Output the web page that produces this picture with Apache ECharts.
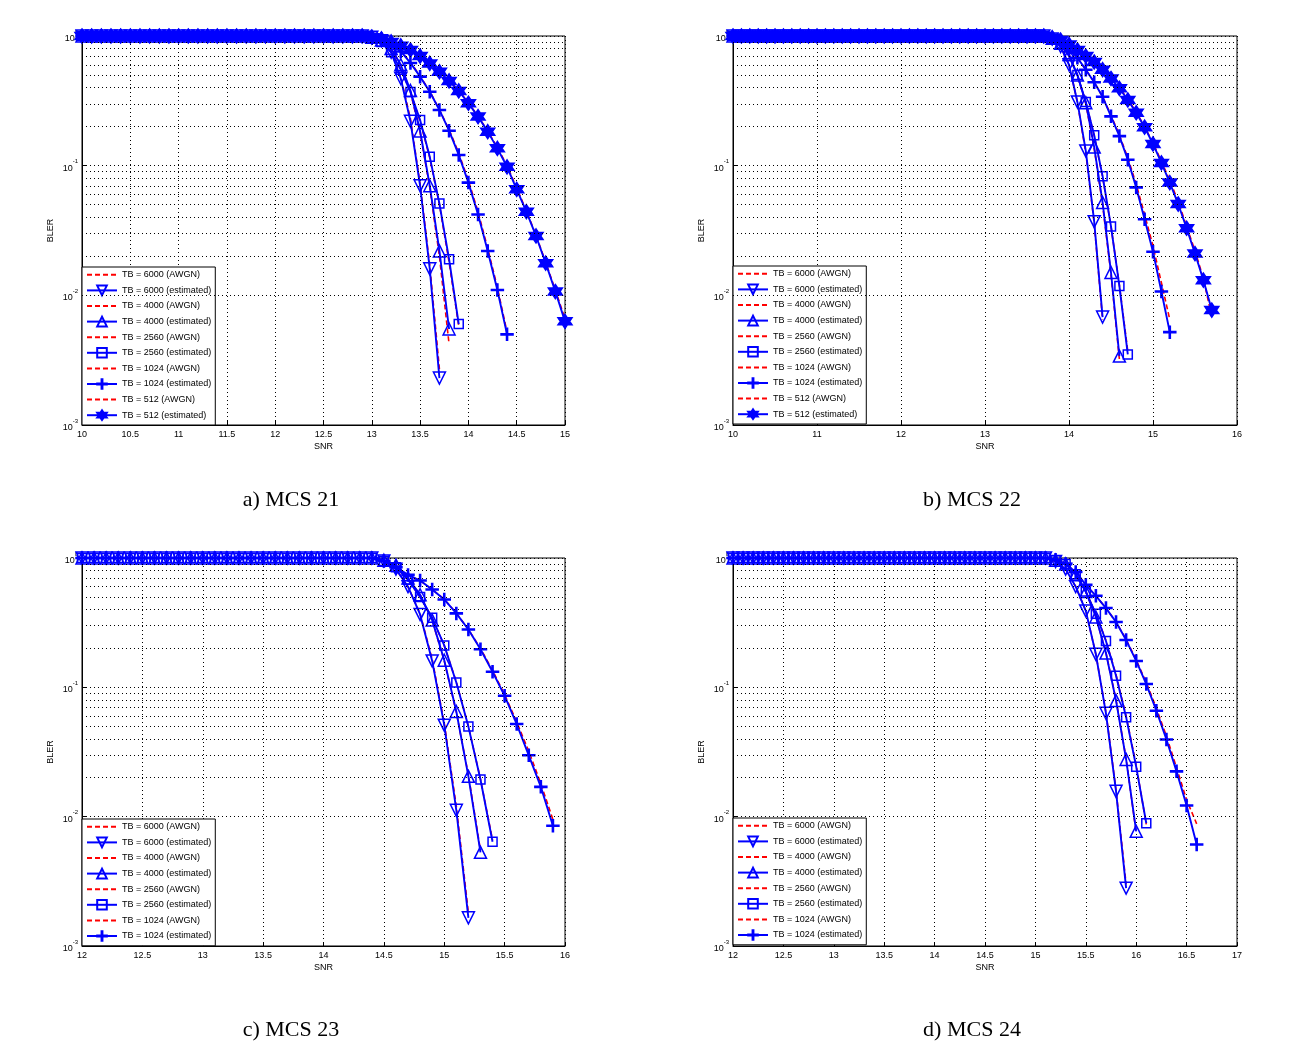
<!DOCTYPE html>
<html>
<head>
<meta charset="utf-8">
<script src="https://cdn.jsdelivr.net/npm/echarts@6/dist/echarts.min.js"></script>
<style>
html,body{margin:0;padding:0;background:#fff;}
#chart{width:1298px;height:1048px;}
</style>
</head>
<body>
<div id="chart"></div>
<script>
// ---------- SNR sample grids ----------
var snrA = [10,10.1,10.2,10.3,10.4,10.5,10.6,10.7,10.8,10.9,11,11.1,11.2,11.3,11.4,11.5,11.6,11.7,11.8,11.9,12,12.1,12.2,12.3,12.4,12.5,12.6,12.7,12.8,12.9,13,13.1,13.2,13.3,13.4,13.5,13.6,13.7,13.8,13.9,14,14.1,14.2,14.3,14.4,14.5,14.6,14.7,14.8,14.9,15];
var snrB = [10,10.1,10.2,10.3,10.4,10.5,10.6,10.7,10.8,10.9,11,11.1,11.2,11.3,11.4,11.5,11.6,11.7,11.8,11.9,12,12.1,12.2,12.3,12.4,12.5,12.6,12.7,12.8,12.9,13,13.1,13.2,13.3,13.4,13.5,13.6,13.7,13.8,13.9,14,14.1,14.2,14.3,14.4,14.5,14.6,14.7,14.8,14.9,15,15.1,15.2,15.3,15.4,15.5,15.6,15.7];
var snrC = [12,12.1,12.2,12.3,12.4,12.5,12.6,12.7,12.8,12.9,13,13.1,13.2,13.3,13.4,13.5,13.6,13.7,13.8,13.9,14,14.1,14.2,14.3,14.4,14.5,14.6,14.7,14.8,14.9,15,15.1,15.2,15.3,15.4,15.5,15.6,15.7,15.8,15.9];
var snrD = [12,12.1,12.2,12.3,12.4,12.5,12.6,12.7,12.8,12.9,13,13.1,13.2,13.3,13.4,13.5,13.6,13.7,13.8,13.9,14,14.1,14.2,14.3,14.4,14.5,14.6,14.7,14.8,14.9,15,15.1,15.2,15.3,15.4,15.5,15.6,15.7,15.8,15.9,16,16.1,16.2,16.3,16.4,16.5,16.6];

// ---------- a) MCS 21 ----------
var a6000awgn = [1,1,1,1,1,1,1,1,1,1, 1,1,1,1,1,1,1,1,1,1, 1,1,1,1,1,1,1,1,1,1, 0.98,0.92,0.76,0.48,0.23,0.072,0.017,0.0027];
var a6000est  = [1,1,1,1,1,1,1,1,1,1, 1,1,1,1,1,1,1,1,1,1, 1,1,1,1,1,1,1,1,1,1, 0.98,0.92,0.75,0.47,0.22,0.07,0.016,0.0023];
var a4000awgn = [1,1,1,1,1,1,1,1,1,1, 1,1,1,1,1,1,1,1,1,1, 1,1,1,1,1,1,1,1,1,1, 0.98,0.93,0.8,0.6,0.37,0.18,0.068,0.02,0.0042];
var a4000est  = [1,1,1,1,1,1,1,1,1,1, 1,1,1,1,1,1,1,1,1,1, 1,1,1,1,1,1,1,1,1,1, 0.98,0.93,0.8,0.6,0.38,0.185,0.07,0.022,0.0055];
var a2560awgn = [1,1,1,1,1,1,1,1,1,1, 1,1,1,1,1,1,1,1,1,1, 1,1,1,1,1,1,1,1,1,1, 0.97,0.9,0.75,0.56,0.37,0.22,0.115,0.05,0.018,0.0058];
var a2560est  = [1,1,1,1,1,1,1,1,1,1, 1,1,1,1,1,1,1,1,1,1, 1,1,1,1,1,1,1,1,1,1, 0.97,0.9,0.75,0.55,0.37,0.225,0.117,0.051,0.019,0.006];
var a1024awgn = [1,1,1,1,1,1,1,1,1,1, 1,1,1,1,1,1,1,1,1,1, 1,1,1,1,1,1,1,1,1,1, 0.99,0.95,0.88,0.76,0.63,0.49,0.375,0.27,0.19,0.125,0.077,0.044,0.023,0.0115,0.0052];
var a1024est  = [1,1,1,1,1,1,1,1,1,1, 1,1,1,1,1,1,1,1,1,1, 1,1,1,1,1,1,1,1,1,1, 0.99,0.95,0.88,0.76,0.62,0.486,0.372,0.269,0.186,0.121,0.074,0.042,0.022,0.011,0.005];
var a512awgn  = [1,1,1,1,1,1,1,1,1,1, 1,1,1,1,1,1,1,1,1,1, 1,1,1,1,1,1,1,1,1,1, 0.98,0.95,0.9,0.84,0.78,0.7,0.62,0.53,0.455,0.38,0.305,0.24,0.185,0.138,0.1,0.067,0.045,0.029,0.018,0.011,0.0066];
var a512est   = [1,1,1,1,1,1,1,1,1,1, 1,1,1,1,1,1,1,1,1,1, 1,1,1,1,1,1,1,1,1,1, 0.98,0.95,0.9,0.84,0.78,0.7,0.615,0.53,0.45,0.377,0.303,0.239,0.183,0.136,0.098,0.0657,0.0442,0.0287,0.0177,0.0107,0.0063];

// ---------- b) MCS 22 ----------
var b6000awgn = [1,1,1,1,1,1,1,1,1,1, 1,1,1,1,1,1,1,1,1,1, 1,1,1,1,1,1,1,1,1,1, 1,1,1,1,1,1,1,1, 0.95,0.83,0.6,0.31,0.125,0.036,0.0065];
var b6000est  = [1,1,1,1,1,1,1,1,1,1, 1,1,1,1,1,1,1,1,1,1, 1,1,1,1,1,1,1,1,1,1, 1,1,1,1,1,1,1,1, 0.95,0.83,0.6,0.31,0.13,0.037,0.0068];
var b4000awgn = [1,1,1,1,1,1,1,1,1,1, 1,1,1,1,1,1,1,1,1,1, 1,1,1,1,1,1,1,1,1,1, 1,1,1,1,1,1,1,1, 0.96,0.88,0.72,0.5,0.3,0.135,0.05,0.0145,0.0032];
var b4000est  = [1,1,1,1,1,1,1,1,1,1, 1,1,1,1,1,1,1,1,1,1, 1,1,1,1,1,1,1,1,1,1, 1,1,1,1,1,1,1,1, 0.96,0.88,0.72,0.5,0.306,0.139,0.052,0.015,0.0034];
var b2560awgn = [1,1,1,1,1,1,1,1,1,1, 1,1,1,1,1,1,1,1,1,1, 1,1,1,1,1,1,1,1,1,1, 1,1,1,1,1,1,1,1, 0.95,0.87,0.7,0.5,0.31,0.17,0.082,0.034,0.012,0.0037];
var b2560est  = [1,1,1,1,1,1,1,1,1,1, 1,1,1,1,1,1,1,1,1,1, 1,1,1,1,1,1,1,1,1,1, 1,1,1,1,1,1,1,1, 0.95,0.87,0.7,0.5,0.31,0.172,0.083,0.034,0.0118,0.0035];
var b1024awgn = [1,1,1,1,1,1,1,1,1,1, 1,1,1,1,1,1,1,1,1,1, 1,1,1,1,1,1,1,1,1,1, 1,1,1,1,1,1,1,1, 0.96,0.9,0.8,0.68,0.55,0.44,0.34,0.245,0.172,0.115,0.072,0.042,0.024,0.0125,0.0065];
var b1024est  = [1,1,1,1,1,1,1,1,1,1, 1,1,1,1,1,1,1,1,1,1, 1,1,1,1,1,1,1,1,1,1, 1,1,1,1,1,1,1,1, 0.96,0.9,0.8,0.68,0.55,0.44,0.34,0.24,0.169,0.111,0.068,0.0386,0.0217,0.0107,0.0052];
var b512awgn  = [1,1,1,1,1,1,1,1,1,1, 1,1,1,1,1,1,1,1,1,1, 1,1,1,1,1,1,1,1,1,1, 1,1,1,1,1,1,1,1, 0.97,0.93,0.86,0.78,0.7,0.63,0.55,0.47,0.4,0.325,0.26,0.2,0.15,0.108,0.077,0.053,0.034,0.022,0.0135,0.0068];
var b512est   = [1,1,1,1,1,1,1,1,1,1, 1,1,1,1,1,1,1,1,1,1, 1,1,1,1,1,1,1,1,1,1, 1,1,1,1,1,1,1,1, 0.97,0.93,0.86,0.78,0.7,0.63,0.55,0.47,0.395,0.321,0.256,0.198,0.147,0.105,0.074,0.0506,0.0329,0.021,0.0131,0.0077];

// ---------- c) MCS 23 ----------
var c6000awgn = [1,1,1,1,1,1,1,1,1,1, 1,1,1,1,1,1,1,1,1,1, 1,1,1,1,1, 0.95,0.82,0.6,0.37,0.165,0.053,0.012,0.0018];
var c6000est  = [1,1,1,1,1,1,1,1,1,1, 1,1,1,1,1,1,1,1,1,1, 1,1,1,1,1, 0.95,0.82,0.6,0.366,0.16,0.051,0.0112,0.00165];
var c4000awgn = [1,1,1,1,1,1,1,1,1,1, 1,1,1,1,1,1,1,1,1,1, 1,1,1,1,1, 0.96,0.88,0.7,0.52,0.33,0.16,0.064,0.021,0.0055];
var c4000est  = [1,1,1,1,1,1,1,1,1,1, 1,1,1,1,1,1,1,1,1,1, 1,1,1,1,1, 0.96,0.88,0.7,0.52,0.331,0.162,0.065,0.0205,0.0053];
var c2560awgn = [1,1,1,1,1,1,1,1,1,1, 1,1,1,1,1,1,1,1,1,1, 1,1,1,1,1, 0.95,0.85,0.68,0.5,0.345,0.21,0.11,0.05,0.0195,0.0066];
var c2560est  = [1,1,1,1,1,1,1,1,1,1, 1,1,1,1,1,1,1,1,1,1, 1,1,1,1,1, 0.95,0.85,0.68,0.5,0.345,0.211,0.109,0.0497,0.0194,0.0064];
var c1024awgn = [1,1,1,1,1,1,1,1,1,1, 1,1,1,1,1,1,1,1,1,1, 1,1,1,1,1, 0.95,0.85,0.74,0.67,0.57,0.48,0.375,0.28,0.2,0.135,0.088,0.054,0.032,0.018,0.0095];
var c1024est  = [1,1,1,1,1,1,1,1,1,1, 1,1,1,1,1,1,1,1,1,1, 1,1,1,1,1, 0.95,0.85,0.74,0.67,0.57,0.478,0.373,0.28,0.197,0.132,0.086,0.052,0.0298,0.017,0.0085];

// ---------- d) MCS 24 ----------
var d6000awgn = [1,1,1,1,1,1,1,1,1,1, 1,1,1,1,1,1,1,1,1,1, 1,1,1,1,1,1,1,1,1,1, 1,1, 0.94,0.82,0.6,0.39,0.18,0.064,0.016,0.003];
var d6000est  = [1,1,1,1,1,1,1,1,1,1, 1,1,1,1,1,1,1,1,1,1, 1,1,1,1,1,1,1,1,1,1, 1,1, 0.94,0.82,0.6,0.39,0.18,0.063,0.0157,0.0028];
var d4000awgn = [1,1,1,1,1,1,1,1,1,1, 1,1,1,1,1,1,1,1,1,1, 1,1,1,1,1,1,1,1,1,1, 1,1, 0.96,0.9,0.75,0.55,0.35,0.185,0.08,0.028,0.0075];
var d4000est  = [1,1,1,1,1,1,1,1,1,1, 1,1,1,1,1,1,1,1,1,1, 1,1,1,1,1,1,1,1,1,1, 1,1, 0.96,0.9,0.75,0.55,0.35,0.184,0.079,0.0277,0.0077];
var d2560awgn = [1,1,1,1,1,1,1,1,1,1, 1,1,1,1,1,1,1,1,1,1, 1,1,1,1,1,1,1,1,1,1, 1,1, 0.96,0.9,0.75,0.55,0.37,0.23,0.125,0.06,0.025,0.0087];
var d2560est  = [1,1,1,1,1,1,1,1,1,1, 1,1,1,1,1,1,1,1,1,1, 1,1,1,1,1,1,1,1,1,1, 1,1, 0.96,0.9,0.75,0.55,0.37,0.228,0.123,0.0588,0.0243,0.0089];
var d1024awgn = [1,1,1,1,1,1,1,1,1,1, 1,1,1,1,1,1,1,1,1,1, 1,1,1,1,1,1,1,1,1,1, 1,1, 0.97,0.9,0.78,0.62,0.51,0.41,0.32,0.235,0.163,0.109,0.069,0.042,0.024,0.0135,0.0088];
var d1024est  = [1,1,1,1,1,1,1,1,1,1, 1,1,1,1,1,1,1,1,1,1, 1,1,1,1,1,1,1,1,1,1, 1,1, 0.97,0.9,0.78,0.62,0.51,0.41,0.32,0.232,0.16,0.106,0.066,0.0395,0.0224,0.0122,0.0061];

// ---------- labels ----------
var captions = ['a) MCS 21', 'b) MCS 22', 'c) MCS 23', 'd) MCS 24'];
var yMinorTicks = [0.002,0.003,0.004,0.005,0.006,0.007,0.008,0.009,0.02,0.03,0.04,0.05,0.06,0.07,0.08,0.09,0.2,0.3,0.4,0.5,0.6,0.7,0.8,0.9];
var xRanges = [[10,15,0.5],[10,16,1],[12,16,0.5],[12,17,0.5]];

// ---------- styling / assembly ----------
var BLUE = '#0000ff', RED = '#ff0000';
var FONT = 'Liberation Sans';
var SYM = {
  '6000': {symbol:'triangle', size:12, rotate:180, fill:'rgba(0,0,0,0)'},
  '4000': {symbol:'triangle', size:12, rotate:0, fill:'rgba(0,0,0,0)'},
  '2560': {symbol:'rect', size:9, rotate:0, fill:'rgba(0,0,0,0)'},
  '1024': {symbol:'path://M9.1,0H10.9V9.1H20V10.9H10.9V20H9.1V10.9H0V9.1H9.1Z', size:12, rotate:0, fill:BLUE},
  '512':  {symbol:'path://M10,0L12.887,5L18.66,5L15.774,10L18.66,15L12.887,15L10,20L7.113,15L1.34,15L4.226,10L1.34,5L7.113,5Z', size:14, rotate:0, fill:BLUE}
};

var panels = [
  {xs:snrA, curves:[['6000',a6000awgn,a6000est],['4000',a4000awgn,a4000est],['2560',a2560awgn,a2560est],['1024',a1024awgn,a1024est],['512',a512awgn,a512est]]},
  {xs:snrB, curves:[['6000',b6000awgn,b6000est],['4000',b4000awgn,b4000est],['2560',b2560awgn,b2560est],['1024',b1024awgn,b1024est],['512',b512awgn,b512est]]},
  {xs:snrC, curves:[['6000',c6000awgn,c6000est],['4000',c4000awgn,c4000est],['2560',c2560awgn,c2560est],['1024',c1024awgn,c1024est]]},
  {xs:snrD, curves:[['6000',d6000awgn,d6000est],['4000',d4000awgn,d4000est],['2560',d2560awgn,d2560est],['1024',d1024awgn,d1024est]]}
];

var gridPos = [
  {left:82, top:36, width:483, height:389},
  {left:733, top:36, width:504, height:389},
  {left:82, top:558, width:483, height:388},
  {left:733, top:558, width:504, height:388}
];
var legendPos = [
  {left:82, top:267},
  {left:733, top:266},
  {left:82, top:819},
  {left:733, top:818}
];
var captionPos = [[291,500],[972,500],[291,1030],[972,1030]];

function pairs(xs, ys){ return ys.map(function(v,i){ return [xs[i], v]; }); }

var grids = [], xAxes = [], yAxes = [], series = [], legends = [], graphics = [];
panels.forEach(function(p, k){
  var g = gridPos[k];
  grids.push({left:g.left, top:g.top, width:g.width, height:g.height, show:true, borderColor:'#000', borderWidth:1, containLabel:false});
  var xr = xRanges[k];
  xAxes.push({
    type:'value', gridIndex:k, min:xr[0], max:xr[1], interval:xr[2],
    name:'SNR', nameLocation:'middle', nameGap:17,
    nameTextStyle:{fontFamily:FONT, fontSize:9, color:'#000'},
    axisLine:{lineStyle:{color:'#000', width:1}},
    axisTick:{inside:true, length:4, lineStyle:{color:'#000'}},
    axisLabel:{fontFamily:FONT, fontSize:9, color:'#000', margin:5},
    splitLine:{show:true, lineStyle:{color:'#000', type:[1,3], width:1}}
  });
  yAxes.push({
    type:'log', logBase:10, gridIndex:k, min:0.001, max:1,
    name:'BLER', nameLocation:'middle', nameGap:27, nameRotate:90,
    nameTextStyle:{fontFamily:FONT, fontSize:9, color:'#000'},
    axisLine:{lineStyle:{color:'#000', width:1}},
    axisTick:{inside:true, length:4, lineStyle:{color:'#000'}},
    axisLabel:{
      fontFamily:FONT, fontSize:9, color:'#000', margin:4,
      formatter:function(v){ var e = Math.round(Math.log(v)/Math.LN10); return '{b|10}{s|' + e + '}'; },
      rich:{ b:{fontFamily:FONT, fontSize:9, color:'#000', verticalAlign:'bottom', lineHeight:14},
             s:{fontFamily:FONT, fontSize:6, color:'#000', verticalAlign:'top', lineHeight:14} }
    },
    splitLine:{show:true, lineStyle:{color:'#000', type:[1,3], width:1}}
  });
  // minor log grid lines
  series.push({
    type:'line', xAxisIndex:k, yAxisIndex:k, data:[], silent:true, z:1,
    markLine:{silent:true, symbol:['none','none'], animation:false, label:{show:false},
      lineStyle:{color:'#000', type:[1,3], width:1},
      data: yMinorTicks.map(function(v){ return {yAxis:v}; })}
  });
  var names = [];
  p.curves.forEach(function(c){
    var tb = c[0], s = SYM[tb];
    var nA = 'TB = ' + tb + ' (AWGN)', nE = 'TB = ' + tb + ' (estimated)';
    names.push({name:nA, itemStyle:{opacity:0, color:'rgba(0,0,0,0)', borderWidth:0}}, {name:nE});
    series.push({
      name:nA, type:'line', xAxisIndex:k, yAxisIndex:k, data:pairs(p.xs, c[1]),
      symbol:'none', z:2, silent:true,
      lineStyle:{color:RED, width:1.6, type:[5,3]}, itemStyle:{color:RED}
    });
    series.push({
      name:nE, type:'line', xAxisIndex:k, yAxisIndex:k, data:pairs(p.xs, c[2]),
      symbol:s.symbol, symbolSize:s.size, symbolRotate:s.rotate, showSymbol:true, showAllSymbol:true, z:3, silent:true,
      lineStyle:{color:BLUE, width:1.9, type:'solid'},
      itemStyle:{color:s.fill, borderColor:BLUE, borderWidth:1.5}
    });
  });
  legends.push({
    data:names, orient:'vertical', left:legendPos[k].left, top:legendPos[k].top,
    backgroundColor:'#fff', borderColor:'#000', borderWidth:1, padding:[3,4,4,4],
    itemWidth:30, itemHeight:12, itemGap:5.0, selectedMode:false,
    textStyle:{fontFamily:FONT, fontSize:9, color:'#000'}
  });
  graphics.push({
    type:'text', x:captionPos[k][0], y:captionPos[k][1],
    style:{text:captions[k], fontFamily:'Liberation Serif', fontSize:22, fill:'#000', align:'center', verticalAlign:'middle'}
  });
});

var chart = echarts.init(document.getElementById('chart'));
chart.setOption({
  animation:false,
  backgroundColor:'#fff',
  grid:grids, xAxis:xAxes, yAxis:yAxes, series:series, legend:legends, graphic:graphics
});
</script>
</body>
</html>
